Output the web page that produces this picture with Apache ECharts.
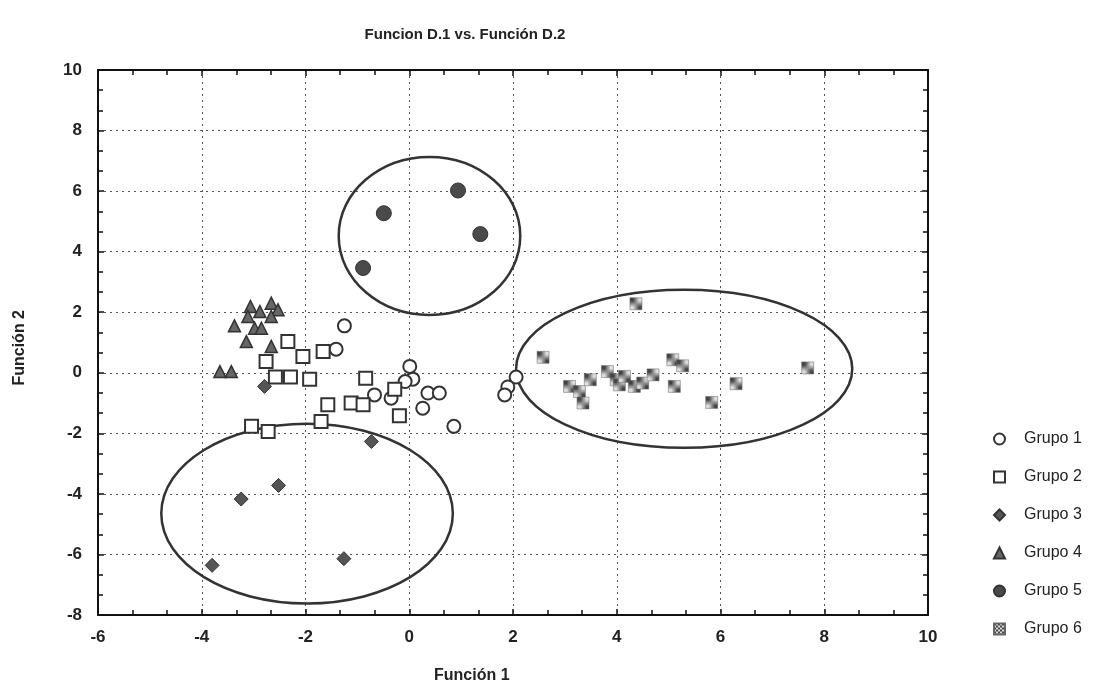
<!DOCTYPE html>
<html>
<head>
<meta charset="utf-8">
<script src="https://cdn.jsdelivr.net/npm/echarts@6/dist/echarts.min.js"></script>
<style>
  html, body { margin: 0; padding: 0; background: #fff; }
  #chart { width: 1094px; height: 691px; }
</style>
</head>
<body>
<div id="chart"></div>
<script>
// puntos de cada grupo [funcion1, funcion2]
var grupo1 = [[-1.25, 1.55], [-1.41, 0.78], [0.01, 0.21], [0.07, -0.21], [-0.08, -0.29], [-0.35, -0.84],
  [-0.67, -0.73], [0.36, -0.67], [0.58, -0.67], [0.26, -1.17], [0.86, -1.77], [2.06, -0.14], [1.90, -0.47], [1.84, -0.73]];
var grupo2 = [[-2.34, 1.03], [-2.05, 0.54], [-1.66, 0.70], [-2.76, 0.37], [-2.58, -0.14], [-2.29, -0.14],
  [-1.92, -0.21], [-0.84, -0.18], [-0.28, -0.54], [-1.57, -1.06], [-1.12, -1.0], [-0.89, -1.06],
  [-0.19, -1.42], [-3.04, -1.77], [-2.72, -1.94], [-1.70, -1.61]];
var grupo3 = [[-2.79, -0.45], [-0.73, -2.27], [-2.52, -3.72], [-3.24, -4.17], [-3.80, -6.36], [-1.26, -6.14]];
var grupo4 = [[-3.06, 2.19], [-2.66, 2.30], [-2.53, 2.08], [-2.88, 2.02], [-3.11, 1.86], [-2.66, 1.86],
  [-3.37, 1.55], [-2.98, 1.47], [-2.85, 1.47], [-3.14, 1.03], [-2.66, 0.87], [-3.65, 0.04], [-3.43, 0.04]];
var grupo5 = [[0.94, 6.02], [-0.49, 5.27], [1.37, 4.58], [-0.89, 3.46]];
var grupo6 = [[4.37, 2.28], [2.58, 0.51], [3.09, -0.45], [3.28, -0.62], [3.35, -1.0], [3.49, -0.23],
  [3.82, 0.04], [3.99, -0.23], [4.05, -0.40], [4.15, -0.12], [4.34, -0.45], [4.50, -0.34], [4.70, -0.07],
  [5.08, 0.43], [5.27, 0.23], [5.11, -0.45], [5.83, -0.98], [6.30, -0.36], [7.68, 0.16]];
// elipses: [centro x, centro y, radio x, radio y]
var elipses = [[0.39, 4.52, 1.75, 2.61], [5.30, 0.13, 3.24, 2.61], [-1.97, -4.65, 2.81, 2.97]];

var nombres = ["Grupo 1", "Grupo 2", "Grupo 3", "Grupo 4", "Grupo 5", "Grupo 6"];

// trama cuadriculada para el grupo 6
var pat = document.createElement("canvas");
pat.width = 4; pat.height = 4;
var pctx = pat.getContext("2d");
pctx.fillStyle = "#ddd";
pctx.fillRect(0, 0, 4, 4);
pctx.fillStyle = "#444";
pctx.fillRect(0, 0, 2, 2);
pctx.fillRect(2, 2, 2, 2);

var fuente = "'Liberation Sans Narrow', 'Liberation Sans', Arial, sans-serif";

function ejeX(pos, labels) {
  return {
    type: "value", position: pos, min: -6, max: 10, interval: 2,
    axisLine: { show: true, onZero: false, lineStyle: { color: "#111", width: 2 } },
    axisTick: { show: true, inside: true, length: 6, lineStyle: { color: "#111", width: 1.5 } },
    minorTick: { show: true, splitNumber: 3, length: 5, lineStyle: { color: "#111", width: 1.5 } },
    axisLabel: { show: labels, margin: 14, fontSize: 17, fontWeight: "bold", fontFamily: fuente, color: "#222" },
    splitLine: { show: labels, lineStyle: { color: "#555", type: [2, 4], width: 1 } }
  };
}
function ejeY(pos, labels) {
  return {
    type: "value", position: pos, min: -8, max: 10, interval: 2,
    axisLine: { show: true, onZero: false, lineStyle: { color: "#111", width: 2 } },
    axisTick: { show: true, inside: true, length: 6, lineStyle: { color: "#111", width: 1.5 } },
    minorTick: { show: true, splitNumber: 3, length: 5, lineStyle: { color: "#111", width: 1.5 } },
    axisLabel: { show: labels, margin: 16, fontSize: 17, fontWeight: "bold", fontFamily: fuente, color: "#222" },
    splitLine: { show: labels, lineStyle: { color: "#555", type: [2, 4], width: 1 } }
  };
}

var option = {
  backgroundColor: "#fff",
  animation: false,
  title: {
    text: "Funcion D.1 vs. Función D.2",
    left: 460, top: 22, textAlign: "center",
    textStyle: { fontSize: 15, fontWeight: "bold", fontFamily: fuente, color: "#222" }
  },
  grid: { left: 98, right: 166, top: 70, bottom: 76, show: false },
  xAxis: [ejeX("bottom", true), ejeX("top", false)],
  yAxis: [ejeY("left", true), ejeY("right", false)],
  graphic: [
    { type: "text", left: 434, top: 668, style: { text: "Función 1", font: "bold 16px " + fuente, fill: "#222" } },
    { type: "text", left: 12, top: 310, rotation: Math.PI / 2,
      style: { text: "Función 2", font: "bold 16px " + fuente, fill: "#222" } }
  ],
  legend: {
    orient: "vertical", left: 988, top: 426, itemGap: 22, itemWidth: 11, itemHeight: 11,
    textStyle: { fontSize: 16, fontFamily: fuente, color: "#222", padding: [0, 0, 0, 14] },
    data: nombres
  },
  series: [
    {
      name: "elipses", type: "custom", silent: true, z: 1,
      data: elipses,
      renderItem: function (params, api) {
        var c = api.coord([api.value(0), api.value(1)]);
        var s = api.size([api.value(2), api.value(3)]);
        return {
          type: "ellipse",
          shape: { cx: c[0], cy: c[1], rx: s[0], ry: s[1] },
          style: { fill: null, stroke: "#333", lineWidth: 2.5 }
        };
      }
    },
    { name: "Grupo 1", type: "scatter", data: grupo1, symbol: "circle", symbolSize: 13, z: 5,
      itemStyle: { color: "#fff", borderColor: "#333", borderWidth: 2, opacity: 1 } },
    { name: "Grupo 2", type: "scatter", data: grupo2, symbol: "rect", symbolSize: 13, z: 5,
      itemStyle: { color: "#fff", borderColor: "#333", borderWidth: 2, opacity: 1 } },
    { name: "Grupo 3", type: "scatter", data: grupo3, symbol: "diamond", symbolSize: 14, z: 5,
      itemStyle: { color: "#555", borderColor: "#333", borderWidth: 1, opacity: 1 } },
    { name: "Grupo 4", type: "scatter", data: grupo4, symbol: "triangle", symbolSize: 12, z: 5,
      itemStyle: { color: "#666", borderColor: "#333", borderWidth: 1.5, opacity: 1 } },
    { name: "Grupo 5", type: "scatter", data: grupo5, symbol: "circle", symbolSize: 15, z: 5,
      itemStyle: { color: "#4a4a4a", borderColor: "#333", borderWidth: 1, opacity: 1 } },
    { name: "Grupo 6", type: "scatter", data: grupo6, symbol: "rect", symbolSize: 12, z: 5,
      itemStyle: { color: { image: pat, repeat: "repeat" }, borderColor: "#666", borderWidth: 0.5, opacity: 1 } }
  ]
};

var myChart = echarts.init(document.getElementById("chart"));
myChart.setOption(option);
</script>
</body>
</html>
